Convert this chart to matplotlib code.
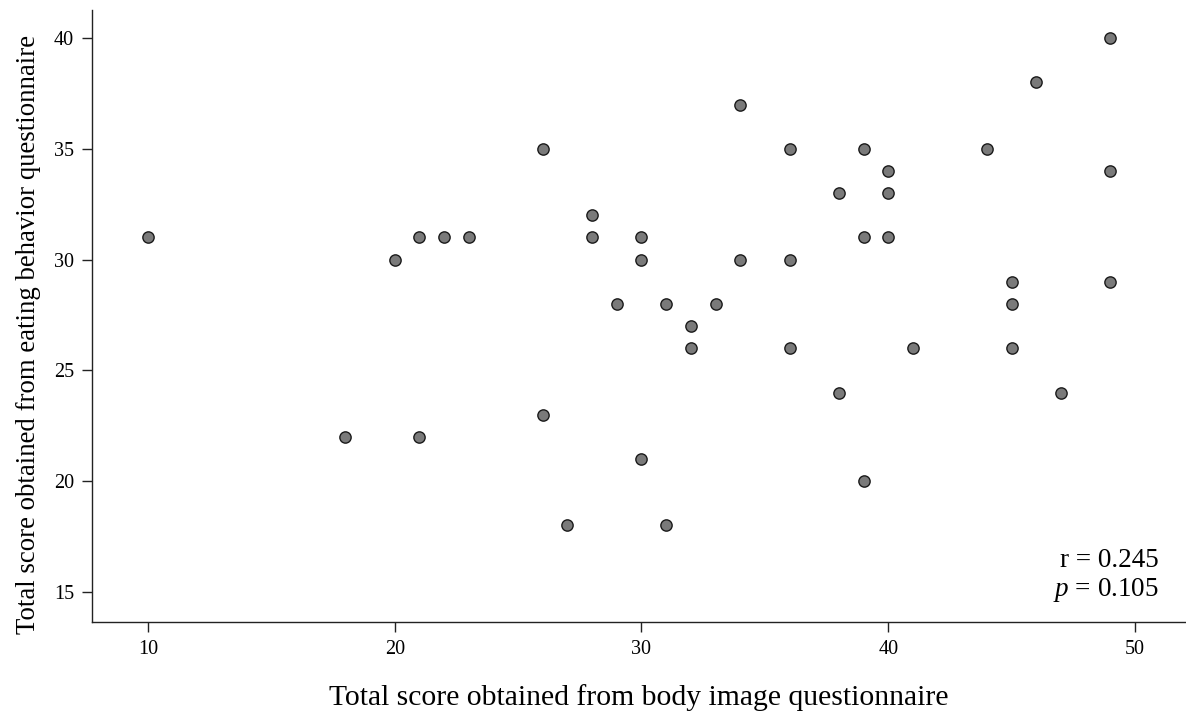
"""Scatter of body image score vs eating behavior score."""
import matplotlib
matplotlib.use("Agg")
import matplotlib.pyplot as plt

body_image_score = [10, 18, 20, 21, 21, 22, 23, 26, 26, 27, 28, 28, 29, 30, 30,
                    30, 31, 31, 32, 32, 33, 34, 34, 36, 36, 36, 38, 38, 39, 39,
                    39, 40, 40, 40, 41, 44, 45, 45, 45, 46, 47, 49, 49, 49]
eating_behavior_score = [31, 22, 30, 31, 22, 31, 31, 35, 23, 18, 32, 31, 28, 31, 30,
                         21, 28, 18, 27, 26, 28, 37, 30, 35, 30, 26, 33, 24, 35, 31,
                         20, 34, 33, 31, 26, 35, 29, 28, 26, 38, 24, 40, 34, 29]
x_ticks = [10, 20, 30, 40, 50]
y_ticks = [15, 20, 25, 30, 35, 40]

plt.rcParams["font.family"] = ["Liberation Serif", "DejaVu Serif"]
plt.rcParams["mathtext.fontset"] = "custom"
plt.rcParams["mathtext.rm"] = "Liberation Serif"
plt.rcParams["mathtext.it"] = "Liberation Serif:italic"

figure = plt.figure(figsize=(11.86, 7.16), dpi=100)
axes = figure.add_axes([0.0776, 0.1313, 0.9224, 0.8547])

axes.scatter(body_image_score, eating_behavior_score, s=66, c="#7a7a7a",
             edgecolors="#1a1a1a", linewidths=1.0, zorder=3)

axes.set_xlim(7.73, 52.07)
axes.set_ylim(13.64, 41.27)
axes.set_xticks(x_ticks)
axes.set_yticks(y_ticks)
axes.tick_params(axis="both", labelsize=14.5, length=7, width=1.0, color="#222222", pad=6)
for side in ("top", "right"):
    axes.spines[side].set_visible(False)
for side in ("left", "bottom"):
    axes.spines[side].set_linewidth(1.0)
    axes.spines[side].set_color("#222222")

axes.set_xlabel("Total score obtained from body image questionnaire", fontsize=21.3, labelpad=18)
axes.set_ylabel("Total score obtained from eating behavior questionnaire", fontsize=19.3)
axes.yaxis.set_label_coords(-0.047, 0.469)

axes.text(0.975, 0.03, "r = 0.245\n$\\mathit{p}$ = 0.105", transform=axes.transAxes,
          ha="right", va="bottom", fontsize=19.5, linespacing=1.15)

figure.savefig("out.png", dpi=100)
